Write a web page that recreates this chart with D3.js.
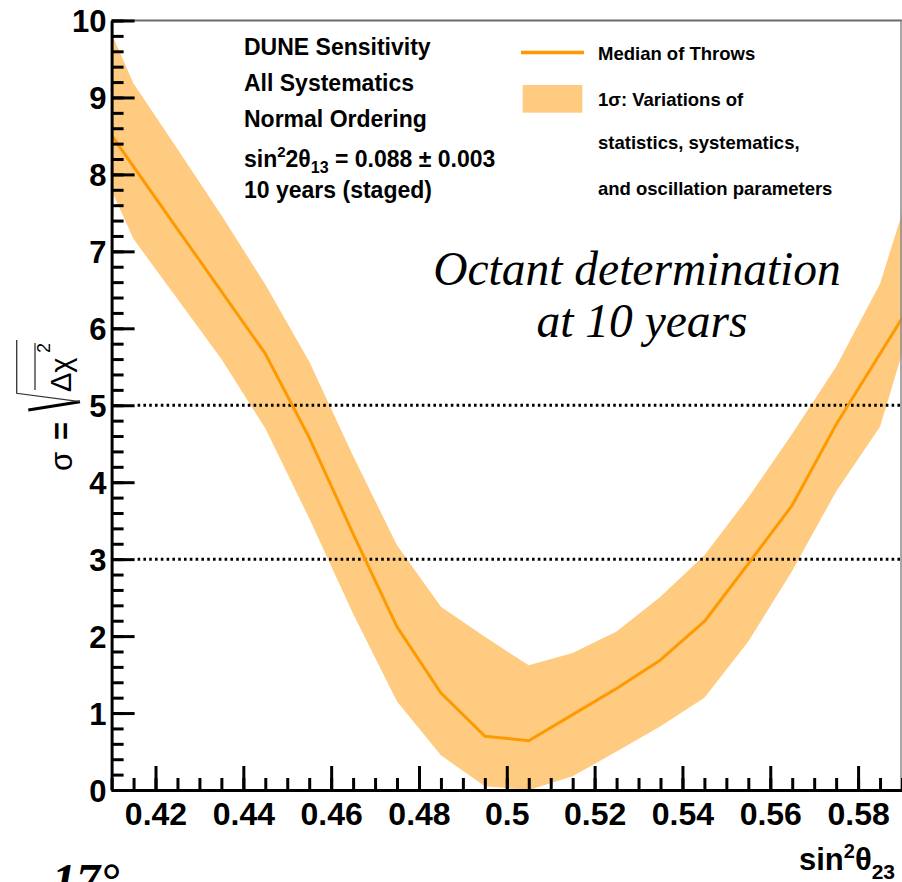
<!DOCTYPE html>
<html>
<head>
<meta charset="utf-8">
<script src="https://cdn.jsdelivr.net/npm/d3@7"></script>
<style>
  html, body { margin: 0; padding: 0; background: #ffffff; }
  svg { display: block; }
</style>
</head>
<body>
<svg id="chart" width="902" height="882"></svg>
<script>
// ---- Data: octant sensitivity vs sin^2(theta23), 10 years staged ----
const sin2theta23 = [0.405, 0.415, 0.425, 0.435, 0.445, 0.455, 0.465, 0.475, 0.485, 0.495,
                     0.505, 0.515, 0.525, 0.535, 0.545, 0.555, 0.565, 0.575, 0.585, 0.595];
const medianSigma = [8.92, 8.10, 7.29, 6.48, 5.67, 4.58, 3.33, 2.12, 1.26, 0.70,
                     0.64, 0.98, 1.32, 1.69, 2.19, 2.94, 3.70, 4.75, 5.67, 6.59];
const bandUpper   = [10.48, 9.18, 8.33, 7.47, 6.57, 5.57, 4.34, 3.18, 2.38, 1.99,
                     1.62, 1.78, 2.06, 2.51, 3.05, 3.80, 4.63, 5.50, 6.58, 8.40];
const bandLower   = [8.42, 7.16, 6.38, 5.60, 4.70, 3.53, 2.29, 1.15, 0.45, 0.05,
                     0.00, 0.18, 0.50, 0.83, 1.20, 1.93, 2.85, 3.88, 4.72, 6.62];

const yMajorTicks = [0, 1, 2, 3, 4, 5, 6, 7, 8, 9, 10];
const xMajorTicks = [0.42, 0.44, 0.46, 0.48, 0.50, 0.52, 0.54, 0.56, 0.58];
const xTickLabels = ["0.42", "0.44", "0.46", "0.48", "0.5", "0.52", "0.54", "0.56", "0.58"];
const thresholds  = [3, 5];

const infoLines = ["DUNE Sensitivity", "All Systematics", "Normal Ordering", null, "10 years (staged)"];
const legendLines = ["Median of Throws", "1\u03C3: Variations of", "statistics, systematics,", "and oscillation parameters"];

// ---- Styles ----
const bandColor = "#fecb80";
const lineColor = "#ff9900";
const sansFont = '"Liberation Sans", Arial, Helvetica, sans-serif';
const serifFont = '"Liberation Serif", "Times New Roman", Times, serif';

const svg = d3.select("#chart");
const plotLeft = 111.6, plotRight = 902, plotTop = 20.5, plotBottom = 790;

const x = d3.scaleLinear().domain([0.41, 0.59]).range([plotLeft, plotRight]);
const y = d3.scaleLinear().domain([0, 10]).range([plotBottom, plotTop]);

svg.append("rect").attr("width", 902).attr("height", 882).attr("fill", "#ffffff");

svg.append("clipPath").attr("id", "plotClip")
  .append("rect").attr("x", plotLeft).attr("y", plotTop)
  .attr("width", plotRight - plotLeft).attr("height", plotBottom - plotTop);

const plot = svg.append("g").attr("clip-path", "url(#plotClip)");

// 1 sigma band
const band = d3.area()
  .x((d, i) => x(sin2theta23[i]))
  .y0((d, i) => y(bandLower[i]))
  .y1((d, i) => y(bandUpper[i]));
plot.append("path").datum(sin2theta23).attr("d", band).attr("fill", bandColor);

// 3 sigma and 5 sigma reference lines
plot.selectAll("line.thr").data(thresholds).join("line")
  .attr("class", "thr")
  .attr("x1", plotLeft + 26).attr("x2", plotRight)
  .attr("y1", d => y(d)).attr("y2", d => y(d))
  .attr("stroke", "#000").attr("stroke-width", 3)
  .attr("stroke-dasharray", "2.6,3.2");

// Median of throws
const medianLine = d3.line()
  .x((d, i) => x(sin2theta23[i]))
  .y((d, i) => y(medianSigma[i]));
plot.append("path").datum(sin2theta23).attr("d", medianLine)
  .attr("fill", "none").attr("stroke", lineColor).attr("stroke-width", 3)
  .attr("stroke-linejoin", "round");

// Frame (top and right edges)
svg.append("line").attr("x1", plotLeft).attr("x2", plotRight).attr("y1", plotTop).attr("y2", plotTop)
  .attr("stroke", "#6b6b6b").attr("stroke-width", 2);
svg.append("line").attr("x1", 901).attr("x2", 901).attr("y1", plotTop).attr("y2", plotBottom)
  .attr("stroke", "#8a8a8a").attr("stroke-width", 1.5);

// ---- Axes ----
function styleAxis(g) {
  g.selectAll(".domain").attr("stroke", "#000").attr("stroke-width", 3);
  g.selectAll(".tick line").attr("stroke", "#000").attr("stroke-width", 3);
  g.selectAll(".tick text").attr("fill", "#000")
    .attr("font-family", sansFont).attr("font-weight", "bold");
}

// y minor ticks
const yMinor = svg.append("g").attr("transform", `translate(${plotLeft},0)`)
  .call(d3.axisLeft(y).tickValues(d3.range(0, 51).map(i => i / 5))
    .tickSize(-12).tickSizeOuter(0).tickFormat(""));
yMinor.select(".domain").remove();
styleAxis(yMinor);

// x minor ticks
const xMinor = svg.append("g").attr("transform", `translate(0,${plotBottom})`)
  .call(d3.axisBottom(x).tickValues(d3.range(410, 591, 5).map(v => v / 1000))
    .tickSize(-12).tickSizeOuter(0).tickFormat(""));
xMinor.select(".domain").remove();
styleAxis(xMinor);

// y major
const yAxis = svg.append("g").attr("transform", `translate(${plotLeft},0)`)
  .call(d3.axisLeft(y).tickValues(yMajorTicks).tickSize(-23).tickSizeOuter(0)
    .tickPadding(5).tickFormat(d3.format("d")));
styleAxis(yAxis);
yAxis.selectAll(".tick text").attr("font-size", 31).attr("dy", "0.36em");

// x major
const xAxis = svg.append("g").attr("transform", `translate(0,${plotBottom})`)
  .call(d3.axisBottom(x).tickValues(xMajorTicks).tickSize(-24).tickSizeOuter(0)
    .tickPadding(12).tickFormat((d, i) => xTickLabels[i]));
styleAxis(xAxis);
xAxis.selectAll(".tick text").attr("font-size", 32);

// x title: sin^2 theta_23
const xt = svg.append("text").attr("x", 799).attr("y", 870)
  .attr("font-family", sansFont).attr("font-weight", "bold").attr("font-size", 31).attr("fill", "#000");
xt.append("tspan").text("sin");
xt.append("tspan").attr("dy", -12).attr("font-size", 20).text("2");
xt.append("tspan").attr("dy", 12).text("\u03B8");
xt.append("tspan").attr("dy", 9).attr("font-size", 21).text("23");

// y title: sigma = sqrt(mean delta chi^2), rotated
const yt = svg.append("g").attr("transform", "translate(74,404) rotate(-90)")
  .attr("font-family", sansFont).attr("fill", "#000");
yt.append("text").attr("x", -67).attr("y", -2).attr("font-size", 31).text("\u03C3");
yt.append("text").attr("x", -36).attr("y", -2).attr("font-size", 31).attr("font-weight", "bold").text("=");
yt.append("text").attr("x", 12).attr("y", -3).attr("font-size", 29).text("\u0394\u03C7");
yt.append("text").attr("x", 51).attr("y", -24).attr("font-size", 18).text("2");
yt.append("path").attr("d", "M-6,-45.7L2.3,6").attr("stroke", "#000").attr("stroke-width", 3).attr("fill", "none");
yt.append("path").attr("d", "M2.3,6L10.7,-57.3L64,-57.3").attr("stroke", "#333").attr("stroke-width", 1.3).attr("fill", "none");
yt.append("path").attr("d", "M14,-39L61,-39").attr("stroke", "#333").attr("stroke-width", 1.3).attr("fill", "none");

// ---- Info text (upper left) ----
const infoBase = [55, 91, 127, 166.5, 198];
const info = svg.append("g").attr("font-family", sansFont).attr("font-weight", "bold")
  .attr("font-size", 23).attr("fill", "#000");
infoLines.forEach((t, i) => {
  if (t !== null) info.append("text").attr("x", 244).attr("y", infoBase[i]).text(t);
});
const th13 = info.append("text").attr("x", 244).attr("y", infoBase[3]);
th13.append("tspan").text("sin");
th13.append("tspan").attr("dy", -10).attr("font-size", 15).text("2");
th13.append("tspan").attr("dy", 10).text("2\u03B8");
th13.append("tspan").attr("dy", 6).attr("font-size", 16).text("13");
th13.append("tspan").attr("dy", -6).text(" = 0.088 \u00B1 0.003");

// ---- Legend (upper right) ----
svg.append("line").attr("x1", 521).attr("x2", 584).attr("y1", 52.5).attr("y2", 52.5)
  .attr("stroke", lineColor).attr("stroke-width", 3.5);
svg.append("rect").attr("x", 522.7).attr("y", 85).attr("width", 59.6).attr("height", 27.7)
  .attr("fill", bandColor);
const legBase = [60, 106, 149, 195];
const leg = svg.append("g").attr("font-family", sansFont).attr("font-weight", "bold")
  .attr("font-size", 18.5).attr("fill", "#000");
legendLines.forEach((t, i) => leg.append("text").attr("x", 598).attr("y", legBase[i]).text(t));

// ---- Annotation ----
const note = svg.append("g").attr("font-family", serifFont).attr("font-style", "italic")
  .attr("font-size", 47.5).attr("fill", "#000").attr("text-anchor", "middle");
note.append("text").attr("x", 637).attr("y", 285).text("Octant determination");
note.append("text").attr("x", 642).attr("y", 337).text("at 10 years");

// Footer fragment at the lower left
svg.append("text").attr("x", 52).attr("y", 897)
  .attr("font-family", serifFont).attr("font-style", "italic").attr("font-weight", "bold")
  .attr("font-size", 48).attr("fill", "#000").text("17\u00B0");
</script>
</body>
</html>
